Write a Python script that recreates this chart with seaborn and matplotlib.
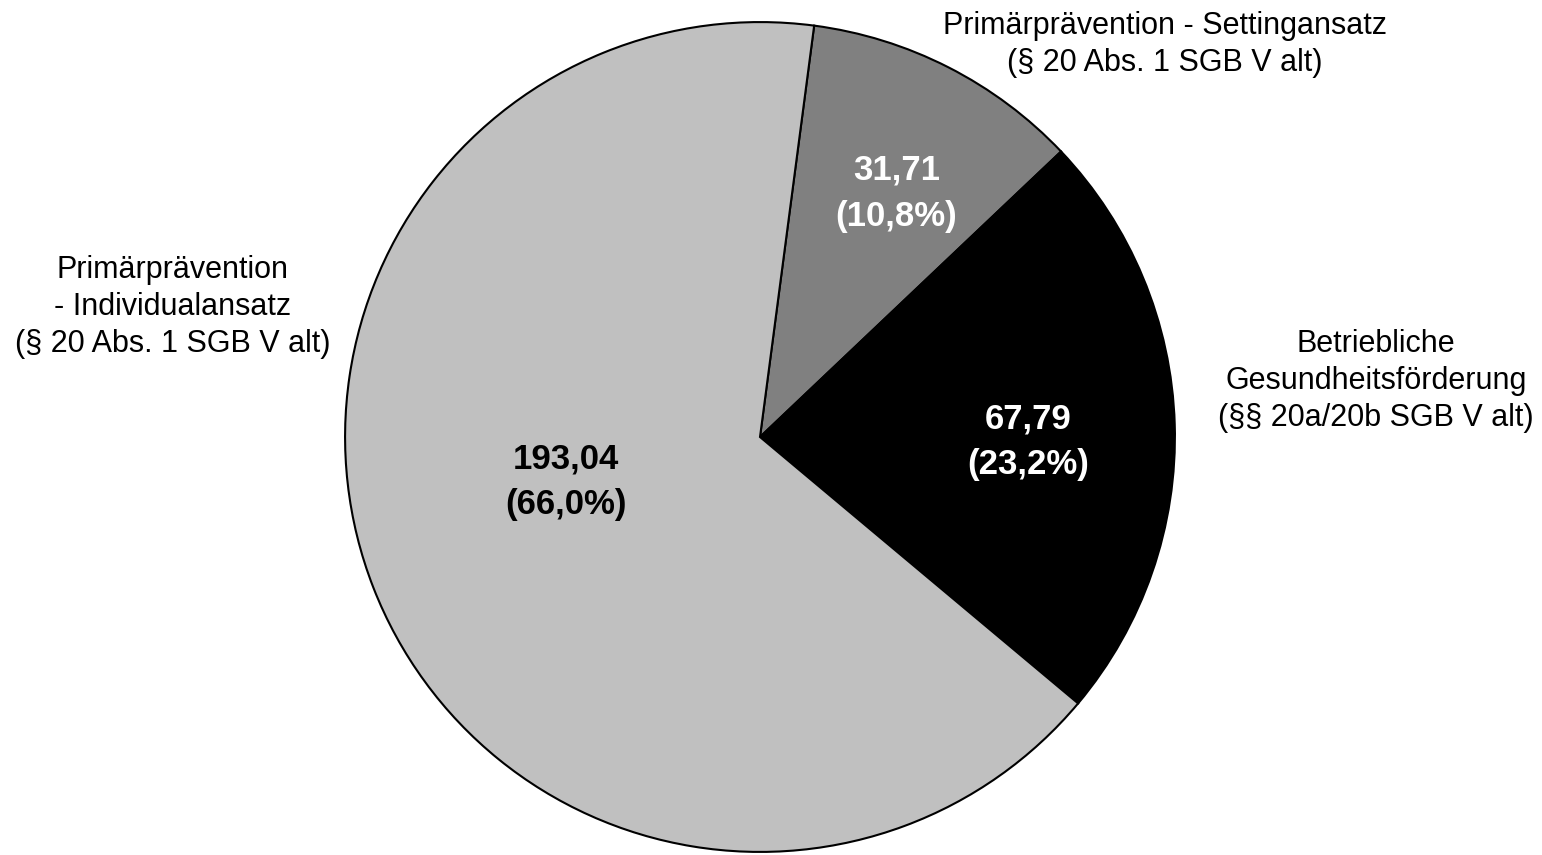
import seaborn as sns
import matplotlib.pyplot as plt

# Ausgaben in Mio. Euro
categories = [
    "Primärprävention - Settingansatz\n(§ 20 Abs. 1 SGB V alt)",
    "Betriebliche\nGesundheitsförderung\n(§§ 20a/20b SGB V alt)",
    "Primärprävention\n- Individualansatz\n(§ 20 Abs. 1 SGB V alt)",
]
values = [31.71, 67.79, 193.04]
colors = ["#808080", "#000000", "#c0c0c0"]
value_colors = ["white", "white", "black"]

sns.set_theme(style="white")
plt.rcParams['font.family'] = ['Liberation Sans Narrow', 'Liberation Sans', 'DejaVu Sans']
plt.rcParams['text.color'] = 'black'

fig = plt.figure(figsize=(15.42, 8.55), dpi=100)
r_px = 417
ax = fig.add_axes([(760 - r_px) / 1542, (855 - 437 - r_px) / 855, 2 * r_px / 1542, 2 * r_px / 855])

total = sum(values)


def fmt(pct):
    v = pct * total / 100
    return f"{v:.2f}\n({pct:.1f}%)".replace(".", ",")


wedges, texts, autotexts = ax.pie(
    values,
    labels=categories,
    colors=colors,
    startangle=82.5,
    counterclock=False,
    autopct=fmt,
    wedgeprops=dict(edgecolor="black", linewidth=1.5),
    textprops=dict(fontsize=22, color="black"),
)

# Beschriftungen außen
label_pos = [(0.976, 0.945), (1.484, 0.134), (-1.415, 0.314)]
for t, pos in zip(texts, label_pos):
    t.set_position(pos)
    t.set_ha("center")
    t.set_va("center")
    t.set_multialignment("center")
    t.set_fontsize(22)
    t.set_linespacing(1.3)

# Werte innen
value_pos = [(0.329, 0.588), (0.647, -0.012), (-0.468, -0.108)]
for t, pos, c in zip(autotexts, value_pos, value_colors):
    t.set_position(pos)
    t.set_color(c)
    t.set_fontweight("bold")
    t.set_fontsize(25)
    t.set_ha("center")
    t.set_va("center")
    t.set_multialignment("center")
    t.set_linespacing(1.5)

ax.set_xlim(-1.005, 1.005)
ax.set_ylim(-1.005, 1.005)
ax.set_aspect("equal")
ax.axis("off")

fig.savefig("out.png", dpi=100, facecolor="white")
